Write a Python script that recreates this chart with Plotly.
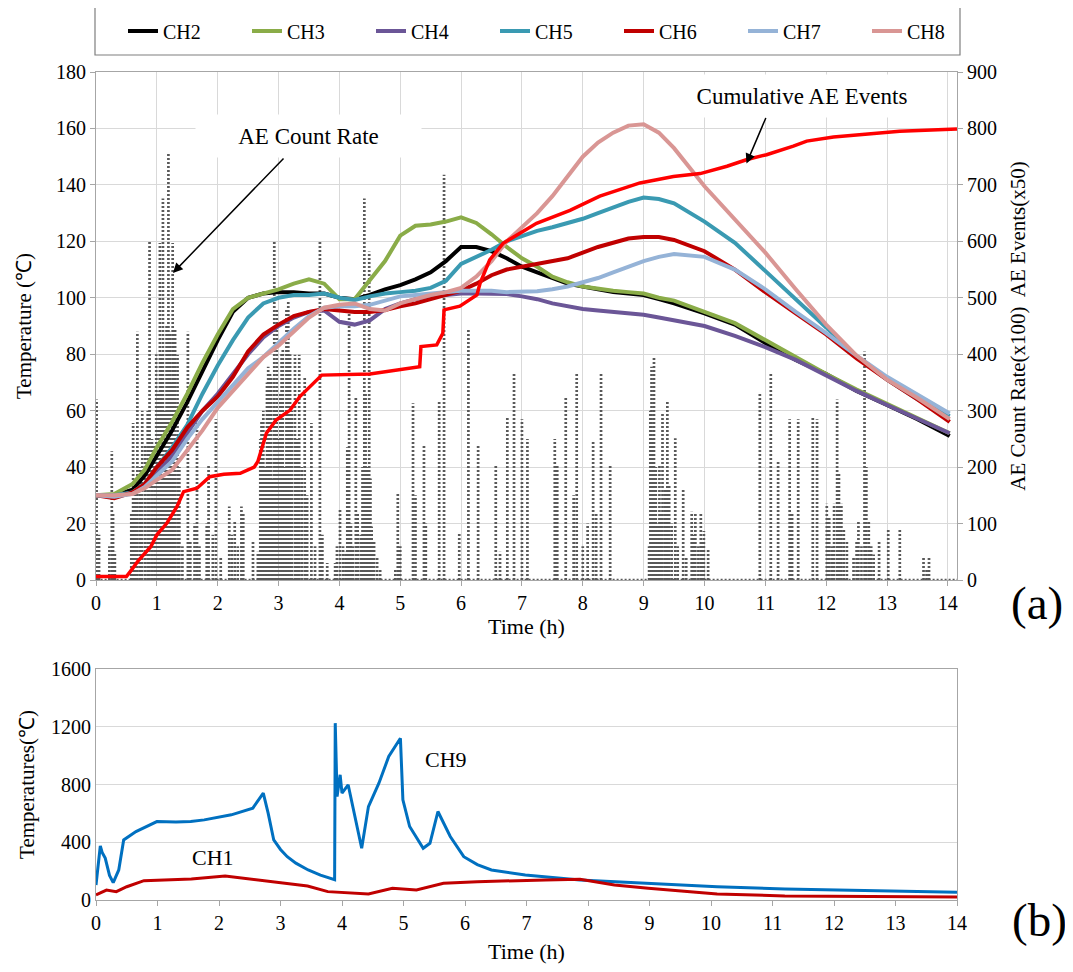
import plotly.graph_objects as go

# ---------------- data: panel (a) temperatures (left axis, degC) ----------------
t_temp = [0, 0.3, 0.6, 0.8, 1.0, 1.25, 1.5, 1.75, 2.0, 2.25, 2.5, 2.75, 3.0, 3.25, 3.5, 3.75,
          4.0, 4.25, 4.5, 4.75, 5.0, 5.25, 5.5, 5.75, 6.0, 6.25, 6.5, 6.75, 7.0, 7.25, 7.5, 7.75,
          8.0, 8.25, 8.5, 8.75, 9.0, 9.25, 9.5, 10.0, 10.5, 11.0, 11.5, 12.0, 12.5, 13.0, 13.5, 14.03]
ch2 = [30, 30, 32, 37, 44, 53, 63, 74, 85, 95, 100, 101.5, 102, 102, 101.5, 101.5,
       100, 99.5, 101, 103, 104.5, 106.5, 109, 113, 118, 118, 116.5, 114, 111, 109, 107, 105,
       104, 103, 102, 101.5, 101, 99.5, 98, 94.5, 90.5, 84, 78, 73, 67, 62, 57, 51]
ch3 = [30, 30.5, 34, 39, 47, 56, 66, 77, 87, 96, 100, 101.5, 103, 105, 106.5, 105,
       99.5, 99.5, 106, 113, 122, 125.5, 126, 127, 128.5, 126.5, 122.5, 118, 114, 111, 107.5, 105.5,
       104, 103.2, 102.5, 102, 101.5, 100, 99, 95, 91, 85, 79, 73, 67.5, 62.5, 57.5, 52]
ch4 = [30, 29.5, 31, 34, 38, 44, 52, 60, 66, 73, 80, 86, 90, 93, 95, 95.5,
       91.5, 90.5, 92, 96, 98, 99.5, 100.5, 101, 101.5, 101.5, 101.5, 101.3, 100.5, 99.5, 98, 97,
       96, 95.5, 95, 94.5, 94, 93, 92, 90, 86.5, 82.5, 78, 72.5, 67, 62, 57, 52]
ch5 = [30, 30, 31, 34, 40, 47, 55, 66, 76, 85, 93, 98, 100, 101, 101, 101.5,
       100, 99.2, 100.5, 101.5, 102, 102.5, 103.5, 106, 112, 114.5, 117, 120, 122, 123.7, 125, 126.5,
       128, 130, 132, 134, 135.5, 135, 133.5, 127, 119.5, 109.5, 99.5, 89.5, 79, 71, 64, 58]
ch6 = [30, 29, 31, 34, 40, 46, 54, 60, 65, 72, 81, 87, 90.5, 93.5, 95, 96,
       95.5, 95, 95, 95.7, 97, 98, 99.5, 101, 102.5, 105, 108, 110, 111, 112, 113, 114,
       116, 118, 119.5, 121, 121.5, 121.5, 120.5, 116.5, 110, 102, 94.5, 87, 78.5, 71, 64, 56]
ch7 = [30, 29.5, 30.5, 33, 37, 42, 50, 57, 63, 69, 75, 79, 84, 89, 93.5, 96.5,
       97, 97, 97.5, 99, 100.5, 101, 101.5, 102, 102.5, 102.5, 102.5, 102, 102, 102.3, 103, 104,
       105.5, 107, 109, 111, 113, 114.5, 115.5, 114.5, 110, 103, 95, 87.5, 79.5, 72, 65.5, 59]
ch8 = [30, 30, 30.5, 32.5, 35.5, 39, 46, 53, 61, 67, 73, 79, 83, 88, 93, 96.5,
       97.5, 98, 96, 95.5, 98, 99.5, 101, 102, 103.5, 107.5, 113, 120, 125, 130, 136, 143,
       150, 155, 158.5, 161, 161.5, 158.5, 153, 139.5, 128, 116, 103, 90.5, 79.5, 71, 64.5, 57]

# ---------------- data: AE (right axis) ----------------
ae_time = [0.01, 0.05, 0.22, 0.26, 0.28, 0.31, 0.58, 0.61, 0.64, 0.68, 0.72, 0.76, 0.81, 0.85, 0.88,
           0.92, 0.96, 0.99, 1.02, 1.05, 1.08, 1.10, 1.13, 1.16, 1.19, 1.22, 1.24, 1.26, 1.28, 1.30,
           1.34, 1.37, 1.42, 1.51, 1.55, 1.62, 1.66, 1.70, 1.82, 1.85, 1.92, 1.97, 2.05, 2.19, 2.23,
           2.28, 2.33, 2.39, 2.42, 2.58, 2.66, 2.70, 2.72, 2.75, 2.78, 2.81, 2.83, 2.86, 2.88, 2.90,
           2.93, 2.95, 2.97, 3.00, 3.03, 3.05, 3.07, 3.10, 3.13, 3.16, 3.19, 3.22, 3.27, 3.30, 3.34,
           3.38, 3.43, 3.47, 3.54, 3.60, 3.68, 3.72, 3.80, 3.93, 3.96, 4.01, 4.06, 4.10, 4.13, 4.16,
           4.19, 4.22, 4.27, 4.30, 4.35, 4.38, 4.41, 4.43, 4.46, 4.49, 4.51, 4.53, 4.57, 4.62, 4.67,
           4.92, 4.96, 5.00, 5.21, 5.25, 5.39, 5.42, 5.64, 5.72, 5.97, 6.12, 6.28, 6.57, 6.64, 6.76,
           6.87, 7.00, 7.09, 7.54, 7.58, 7.72, 7.85, 7.90, 8.00, 8.08, 8.17, 8.22, 8.30, 8.45, 9.09,
           9.11, 9.13, 9.15, 9.17, 9.20, 9.23, 9.26, 9.29, 9.31, 9.35, 9.37, 9.39, 9.42, 9.46, 9.52,
           9.56, 9.65, 9.70, 9.79, 9.82, 9.85, 9.90, 9.94, 9.97, 9.99, 10.06, 10.91, 11.09, 11.21,
           11.40, 11.44, 11.54, 11.78, 11.85, 12.01, 12.05, 12.09, 12.13, 12.18, 12.21, 12.25, 12.29,
           12.34, 12.45, 12.50, 12.53, 12.58, 12.63, 12.66, 12.70, 12.74, 12.78, 12.87, 13.02, 13.21,
           13.60, 13.65, 13.69, 14.15]
ae_rate = [320, 80, 60, 228, 120, 50, 120, 278, 160, 440, 200, 300, 240, 300, 600,
           250, 240, 400, 334, 597, 400, 676, 300, 450, 756, 440, 350, 597, 440, 445,
           399, 200, 60, 440, 70, 100, 278, 60, 100, 205, 80, 285, 40, 130, 80,
           105, 60, 130, 118, 70, 50, 250, 283, 300, 200, 350, 378, 365, 360, 180,
           600, 300, 480, 250, 330, 402, 410, 200, 480, 493, 400, 300, 399, 250, 399,
           200, 360, 150, 278, 60, 600, 80, 30, 30, 60, 124, 60, 50, 235, 473,
           100, 60, 325, 120, 80, 200, 676, 330, 200, 582, 180, 95, 70, 40, 20,
           20, 156, 60, 313, 150, 239, 100, 319, 718, 85, 445, 240, 205, 50, 290,
           365, 285, 250, 250, 205, 325, 150, 365, 60, 100, 245, 120, 365, 205, 60,
           300, 378, 250, 396, 200, 100, 204, 120, 295, 160, 110, 319, 170, 100, 251,
           60, 162, 40, 121, 80, 120, 60, 119, 70, 87, 54, 330, 365, 210,
           285, 120, 285, 290, 285, 135, 110, 60, 135, 320, 190, 135, 90,
           70, 40, 70, 105, 60, 405, 200, 105, 60, 45, 70, 90, 90,
           40, 20, 40, 0]
cum_time = [0, 0.5, 0.56, 0.7, 0.9, 1.0, 1.16, 1.33, 1.44, 1.66, 1.87, 2.1, 2.37, 2.6, 2.66,
            2.72, 2.8, 2.96, 3.19, 3.35, 3.63, 3.71, 4.5, 4.95, 5.32, 5.34, 5.6, 5.7, 5.72, 5.98,
            6.26, 6.31, 6.47, 6.69, 6.97, 7.24, 7.79, 8.28, 8.94, 9.49, 9.93, 10.37, 10.7, 11.02,
            11.46, 11.68, 12.12, 12.67, 13.21, 14.15]
cum_events = [6, 6, 14.5, 35, 59, 80, 100, 130, 156.5, 162.5, 183, 187.5, 189, 200, 210,
              230, 260, 283.5, 301, 325, 355, 363, 365, 372, 378, 413.5, 416.5, 437, 478.5, 485,
              505, 525, 567, 596.5, 615, 632, 655, 680, 703.5, 715, 720, 733, 745, 753.5,
              768.5, 777.5, 785, 790, 795, 799]

# ---------------- data: panel (b) ----------------
t_ch9 = [0, 0.05, 0.07, 0.1, 0.15, 0.22, 0.28, 0.37, 0.45, 0.65, 0.99, 1.3, 1.54, 1.76, 2.2,
         2.55, 2.72, 2.8, 2.89, 3.0, 3.11, 3.25, 3.45, 3.65, 3.86, 3.88, 3.89, 3.92, 3.97, 4.0,
         4.1, 4.21, 4.32, 4.43, 4.6, 4.76, 4.95, 4.99, 5.1, 5.32, 5.43, 5.56, 5.76, 5.98, 6.2,
         6.43, 6.98, 7.87, 8.98, 10.1, 11.2, 12.35, 14.0]
ch9 = [104, 330, 375, 330, 290, 170, 120, 208, 416, 474, 543, 540, 543, 555, 590,
       636, 740, 600, 416, 350, 300, 255, 208, 172, 143, 140, 1225, 716, 867, 740,
       798, 578, 358, 647, 809, 994, 1120, 694, 509, 358, 393, 613, 440, 300, 245,
       208, 173, 139, 116, 92, 76, 65, 53]
t_ch1 = [0, 0.17, 0.33, 0.5, 0.78, 1.55, 2.1, 2.43, 2.88, 3.44, 3.77, 4.43, 4.82, 5.21, 5.65,
         6.2, 7.31, 7.87, 8.43, 8.98, 10.1, 11.2, 14.0]
ch1 = [35, 69, 58, 92, 134, 146, 166, 150, 127, 97, 58, 42, 81, 69, 116,
       127, 139, 143, 104, 81, 42, 28, 21]

tick_a_left = list(range(0, 181, 20))
tick_a_right = list(range(0, 901, 100))
tick_b = list(range(0, 1601, 400))
hours = list(range(0, 15))

FONT = "Liberation Serif"
OFF = 8                      # page body margin of the browser
W, H = 1073 - OFF, 972 - OFF
GRID = "#D9D9D9"
AXL = "#A6A6A6"


def px(x):
    return (x - OFF) / W


def py(y):
    return 1 - (y - OFF) / H


fig = go.Figure()

# AE count rate: dotted vertical spikes plus dotted zero baseline
xs = [ae_time[0], ae_time[-1], None]
ys = [0, 0, None]
for t, v in zip(ae_time, ae_rate):
    xs += [t, t, None]
    ys += [0, v, None]
fig.add_trace(go.Scatter(x=xs, y=ys, mode="lines", xaxis="x", yaxis="y",
                         line=dict(color="#595959", width=2.7, dash="2px,2px"),
                         showlegend=False, hoverinfo="skip", connectgaps=False))

series = [("CH2", ch2, "#000000"), ("CH3", ch3, "#8AAC48"), ("CH4", ch4, "#6B5697"),
          ("CH5", ch5, "#3A9AB2"), ("CH6", ch6, "#C00000"), ("CH7", ch7, "#95B3D7"),
          ("CH8", ch8, "#D99694")]
for name, vals, col in series:
    fig.add_trace(go.Scatter(x=t_temp, y=vals, mode="lines", name=name, xaxis="x", yaxis="y2",
                             line=dict(color=col, width=4)))

fig.add_trace(go.Scatter(x=cum_time, y=cum_events, mode="lines", xaxis="x", yaxis="y3",
                         line=dict(color="#FF0000", width=3.5), showlegend=False))

fig.add_trace(go.Scatter(x=t_ch9, y=ch9, mode="lines", xaxis="x2", yaxis="y4",
                         line=dict(color="#0070C0", width=3), showlegend=False))
fig.add_trace(go.Scatter(x=t_ch1, y=ch1, mode="lines", xaxis="x2", yaxis="y4",
                         line=dict(color="#C00000", width=3), showlegend=False))

tickfont = dict(family=FONT, size=20, color="black")
titlefont = dict(family=FONT, size=21, color="black")

fig.update_layout(
    width=W, height=H, margin=dict(l=0, r=0, t=0, b=0, autoexpand=False),
    paper_bgcolor="white", plot_bgcolor="white",
    font=dict(family=FONT, color="black"),
    xaxis=dict(domain=[px(96), px(957)], range=[0, 14.15], anchor="y",
               tickvals=hours, showgrid=True, gridcolor=GRID, gridwidth=1,
               showline=True, linecolor=AXL, mirror=True, ticks="outside", ticklen=5,
               tickcolor=AXL, tickfont=tickfont, zeroline=False, automargin=False,
               title=dict(text="Time (h)", font=dict(family=FONT, size=22), standoff=4)),
    yaxis=dict(domain=[py(580), py(72)], range=[0, 900], side="right", anchor="x",
               tickvals=tick_a_right, showgrid=True, gridcolor=GRID, showline=True,
               linecolor=AXL, ticks="outside", ticklen=5, tickcolor=AXL, tickfont=tickfont,
               zeroline=False, automargin=False,
               title=dict(text="AE Count Rate(x100)  AE Events(x50)", font=titlefont, standoff=14)),
    yaxis2=dict(overlaying="y", side="left", range=[0, 180], anchor="x",
                tickvals=tick_a_left, showgrid=False, showline=True, linecolor=AXL,
                ticks="outside", ticklen=5, tickcolor=AXL, tickfont=tickfont,
                zeroline=False, automargin=False,
                title=dict(text="Temperature (℃)", font=titlefont, standoff=18)),
    yaxis3=dict(overlaying="y", range=[0, 900], visible=False, anchor="x"),
    xaxis2=dict(domain=[px(96), px(957)], range=[0, 14], anchor="y4",
                tickvals=hours, showgrid=False, showline=True, linecolor=AXL, mirror=True,
                ticks="outside", ticklen=5, tickcolor=AXL, tickfont=tickfont,
                zeroline=False, automargin=False,
                title=dict(text="Time (h)", font=dict(family=FONT, size=22), standoff=10)),
    yaxis4=dict(domain=[py(900), py(669)], range=[0, 1600], anchor="x2",
                tickvals=tick_b, showgrid=True, gridcolor=GRID, showline=True,
                linecolor=AXL, mirror=True, ticks="", tickfont=tickfont,
                zeroline=False, automargin=False,
                title=dict(text="Temperatures(℃)", font=titlefont, standoff=10)),
    legend=dict(orientation="h", x=px(123), xanchor="left", y=py(31), yanchor="middle",
                entrywidth=79, entrywidthmode="pixels", bgcolor="rgba(0,0,0,0)",
                borderwidth=0, font=dict(family=FONT, size=20, color="black"),
                itemclick=False),
    shapes=[dict(type="rect", xref="paper", yref="paper", x0=px(95), x1=px(960),
                 y0=py(55), y1=py(7), line=dict(color="#7F7F7F", width=1.2))],
)

annots = [
    dict(text="AE Count Rate", xref="paper", yref="paper", x=px(308), y=py(136),
         xanchor="center", yanchor="middle",
         showarrow=False, font=dict(family=FONT, size=23), bgcolor="white",
         width=223, height=40),
    dict(text="", xref="x", yref="y2", x=1.265, y=108.8, ax=112, ay=-116,
         showarrow=True, arrowhead=2, arrowsize=1.3, arrowwidth=1.5, arrowcolor="black"),
    dict(text="Cumulative AE Events", xref="paper", yref="paper", x=px(802), y=py(96),
         xanchor="center", yanchor="middle",
         showarrow=False, font=dict(family=FONT, size=23), bgcolor="white",
         width=226, height=40),
    dict(text="", xref="x", yref="y2", x=10.69, y=147.6, ax=20, ay=-47,
         showarrow=True, arrowhead=2, arrowsize=1.3, arrowwidth=1.5, arrowcolor="black"),
    dict(text="(a)", xref="paper", yref="paper", x=px(1037), y=py(603), showarrow=False,
         xanchor="center", yanchor="middle", font=dict(family=FONT, size=47)),
    dict(text="(b)", xref="paper", yref="paper", x=px(1039), y=py(920), showarrow=False,
         xanchor="center", yanchor="middle", font=dict(family=FONT, size=47)),
    dict(text="CH9", xref="paper", yref="paper", x=px(446), y=py(759), showarrow=False,
         xanchor="center", yanchor="middle", font=dict(family=FONT, size=22)),
    dict(text="CH1", xref="paper", yref="paper", x=px(213), y=py(857), showarrow=False,
         xanchor="center", yanchor="middle", font=dict(family=FONT, size=22)),
]
fig.update_layout(annotations=annots)

fig.write_html("out.html")
